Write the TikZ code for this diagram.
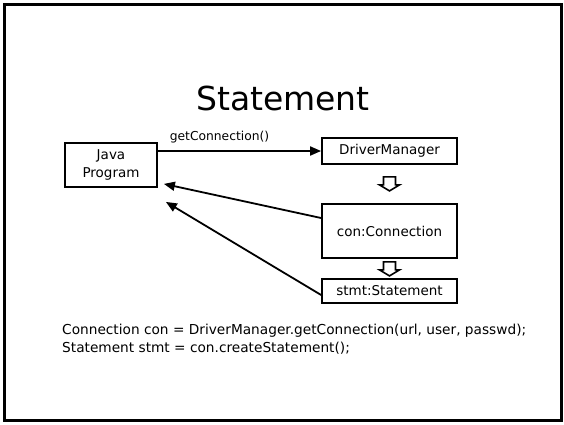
\documentclass[tikz,border=0pt]{standalone}
\usepackage{fontspec}
\setmainfont{DejaVu Sans}
\usetikzlibrary{arrows.meta,calc}
\tikzset{
  objbox/.style={draw, line width=1.8pt, inner sep=0pt, align=center,
    minimum width=135pt, font=\fontsize{13.5}{17}\selectfont},
  arr/.style={line width=1.8pt, -{Triangle[length=11pt,width=9pt]}},
  pics/downarrow/.style={code={
    \draw[line width=1.6pt, fill=white]
      (-6,0) -- (6,0) -- (6,8) -- (10,8) -- (0,14) -- (-10,8) -- (-6,8) -- cycle;
  }}
}
\begin{document}
\begin{tikzpicture}[x=1pt, y=-1pt]
  \useasboundingbox (0,0) rectangle (564,424);
  % slide frame
  \draw[line width=3pt] (4,4) rectangle (561,420);

  % title
  \node[font=\fontsize{33}{38}\selectfont] (title) at (283,98) {Statement};

  % objects
  \node[objbox, minimum width=92pt, minimum height=44pt,
        font=\fontsize{13.5}{18}\selectfont] (jp) at (111,165) {Java\\Program};
  \node[objbox, minimum height=26pt] (dm)   at (389.5,151) {DriverManager};
  \node[objbox, minimum height=54pt] (con)  at (389.5,231) {con:Connection};
  \node[objbox, minimum height=24pt] (stmt) at (389.5,291) {stmt:Statement};

  % creation steps
  \pic at ($(dm.south)+(0,12)$) {downarrow};
  \pic at ($(con.south)+(0,3)$) {downarrow};

  % calls and returned references
  \draw[arr] (jp.east |- dm.west) -- node[above=4pt, xshift=-20pt, font=\fontsize{12.3}{15}\selectfont] {getConnection()} (dm.west);
  \draw[arr] ([yshift=13pt]con.west) -- ([xshift=6pt,yshift=4pt]jp.south east);
  \draw[arr] ([yshift=-4pt]stmt.west) -- ([xshift=8pt,yshift=-14pt]jp.south east);

  % code
  \node[anchor=north west, align=left, inner sep=0pt,
        font=\fontsize{13.7}{18}\selectfont] (code) at (62,324)
    {Connection con = DriverManager.getConnection(url, user, passwd);\\
     Statement stmt = con.createStatement();};
\end{tikzpicture}
\end{document}
